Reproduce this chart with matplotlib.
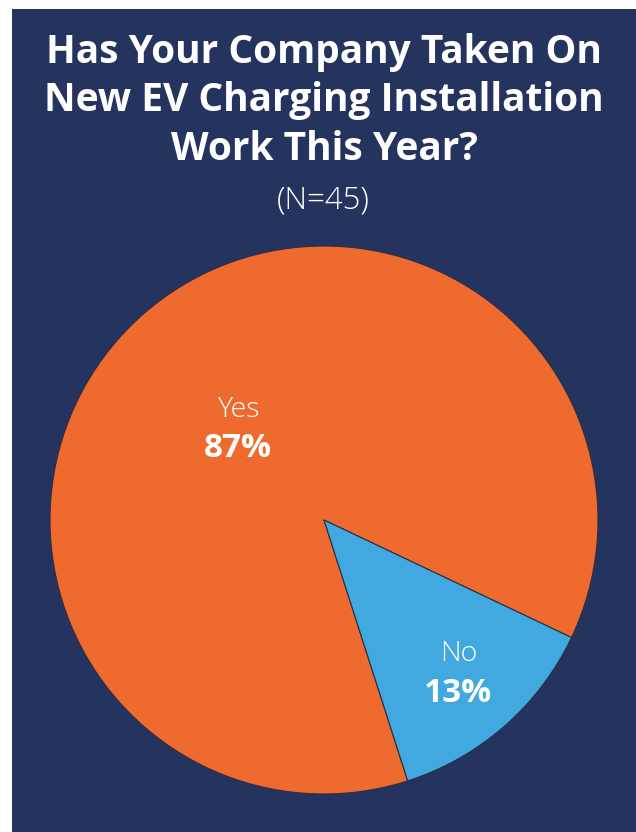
import matplotlib
matplotlib.use("Agg")
import matplotlib.pyplot as plt
import numpy as np

categories = ["Yes", "No"]
shares = [87, 13]
colors = ["#EE6A2F", "#41A9DF"]
title_lines = ["Has Your Company Taken On", "New EV Charging Installation", "Work This Year?"]
subtitle = "(N=45)"

W, H = 636, 832
fig = plt.figure(figsize=(W / 100, H / 100), dpi=100)
fig.patch.set_facecolor("white")

navy = "#25335F"
# Dark panel behind everything
panel = fig.add_axes([12 / W, 0, (W - 12) / W, (H - 9) / H])
panel.set_facecolor(navy)
panel.set_xticks([]); panel.set_yticks([])
for s in panel.spines.values():
    s.set_visible(False)

font = "Open Sans"
for i, line in enumerate(title_lines):
    fig.text(324 / W, 1 - (52 + 48.5 * i) / H, line, color="white", fontsize=28,
             fontweight="bold", family=font, ha="center", va="center")
fig.text(323 / W, 1 - 200 / H, subtitle, color="white", fontsize=22.5,
         fontweight="light", family=font, ha="center", va="center")

cx, cy, r = 324, 520, 274
ax = fig.add_axes([(cx - r) / W, (H - cy - r) / H, 2 * r / W, 2 * r / H])
ax.set_facecolor("none")
wedges, _ = ax.pie(shares, colors=colors, startangle=-25.4, counterclock=True,
                   wedgeprops=dict(edgecolor="#2a2f45", linewidth=0.8))
ax.set_xlim(-1, 1); ax.set_ylim(-1, 1)

# label placement: radial distance and small angular nudge from the wedge middle
dists = [0.457, 0.745]
nudges = [2.2, 0.0]
for w, cat, val, d, nd in zip(wedges, categories, shares, dists, nudges):
    mid = np.deg2rad((w.theta1 + w.theta2) / 2 + nd)
    x, y = d * np.cos(mid), d * np.sin(mid)
    ax.text(x, y + 0.07, cat, color="white", fontsize=20.5, family=font,
            fontweight="light", ha="center", va="center")
    ax.text(x, y - 0.072, f"{val}%", color="white", fontsize=24, family=font,
            fontweight="bold", ha="center", va="center")

fig.savefig("out.png", dpi=100, facecolor=fig.get_facecolor())
